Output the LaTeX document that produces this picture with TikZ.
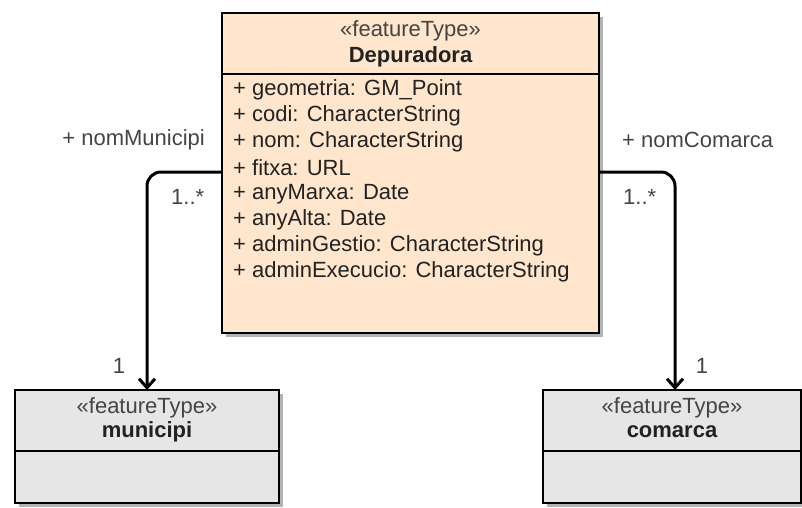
\documentclass[tikz,border=0pt]{standalone}
\usepackage{fontspec}
\setmainfont{Liberation Sans}
\usetikzlibrary{arrows.meta}
\definecolor{peach}{HTML}{FFE6CC}
\definecolor{lgray}{HTML}{E6E6E6}
\definecolor{shadowc}{HTML}{B3B3B3}
\definecolor{txt}{HTML}{222222}
\definecolor{ster}{HTML}{444444}
\tikzset{
  boxline/.style={draw=black, line width=1.4pt},
  shad/.style={fill=shadowc},
  attr/.style={anchor=west, text=txt, font=\fontsize{22}{26}\selectfont, inner sep=0pt},
  stertext/.style={text=ster, font=\fontsize{22}{26}\selectfont, inner sep=0pt},
  nametext/.style={text=txt, font=\fontsize{22}{26}\selectfont\bfseries, inner sep=0pt},
  lbl/.style={text=ster, font=\fontsize{22}{26}\selectfont, inner sep=0pt},
  conn/.style={draw=black, line width=3pt, rounded corners=14pt, -{Straight Barb[length=9pt,width=16pt,line width=3pt]}},
}
\begin{document}
\begin{tikzpicture}[x=1pt,y=-1pt]
\useasboundingbox (0,0) rectangle (802,507);
% main class
\fill[shad] (226,17) rectangle (603,337);
\filldraw[boxline, fill=peach] (222,13) rectangle (599,333);
\draw[boxline] (222,74) -- (599,74);
\node[stertext] (mst) at (410.5,31) {«featureType»};
\node[nametext] (mname) at (410.5,57) {Depuradora};
\node[attr] (a1) at (233,90) {+ geometria: GM\_Point};
\node[attr] (a2) at (233,116) {+ codi: CharacterString};
\node[attr] (a3) at (233,142) {+ nom: CharacterString};
\node[attr] (a4) at (233,168) {+ fitxa: URL};
\node[attr] (a5) at (233,194) {+ anyMarxa: Date};
\node[attr] (a6) at (233,220) {+ anyAlta: Date};
\node[attr] (a7) at (233,246) {+ adminGestio: CharacterString};
\node[attr] (a8) at (233,272) {+ adminExecucio: CharacterString};
\coordinate (mainL) at (222,172);
\coordinate (mainR) at (599,172);
% municipi
\fill[shad] (19,394) rectangle (283,507);
\filldraw[boxline, fill=lgray] (15,390) rectangle (279,503);
\draw[boxline] (15,451) -- (279,451);
\node[stertext] (muster) at (147,408) {«featureType»};
\node[nametext] (muname) at (147,432) {municipi};
\coordinate (muTop) at (147,390);
% comarca
\fill[shad] (547,394) rectangle (806,507);
\filldraw[boxline, fill=lgray] (543,390) rectangle (801,503);
\draw[boxline] (543,451) -- (801,451);
\node[stertext] (coster) at (672,408) {«featureType»};
\node[nametext] (coname) at (672,432) {comarca};
\coordinate (coTop) at (675,390);
% connectors
\draw[conn] (mainL) -| (muTop);
\draw[conn] (mainR) -| (coTop);
% labels
\node[lbl, anchor=east] (l1) at (205,140) {+ nomMunicipi};
\node[lbl, anchor=west] (l2) at (171,197) {1..*};
\node[lbl] (l3) at (119,366) {1};
\node[lbl, anchor=west] (l4) at (622,140) {+ nomComarca};
\node[lbl, anchor=west] (l5) at (623,197) {1..*};
\node[lbl] (l6) at (702,366) {1};
\end{tikzpicture}
\end{document}
